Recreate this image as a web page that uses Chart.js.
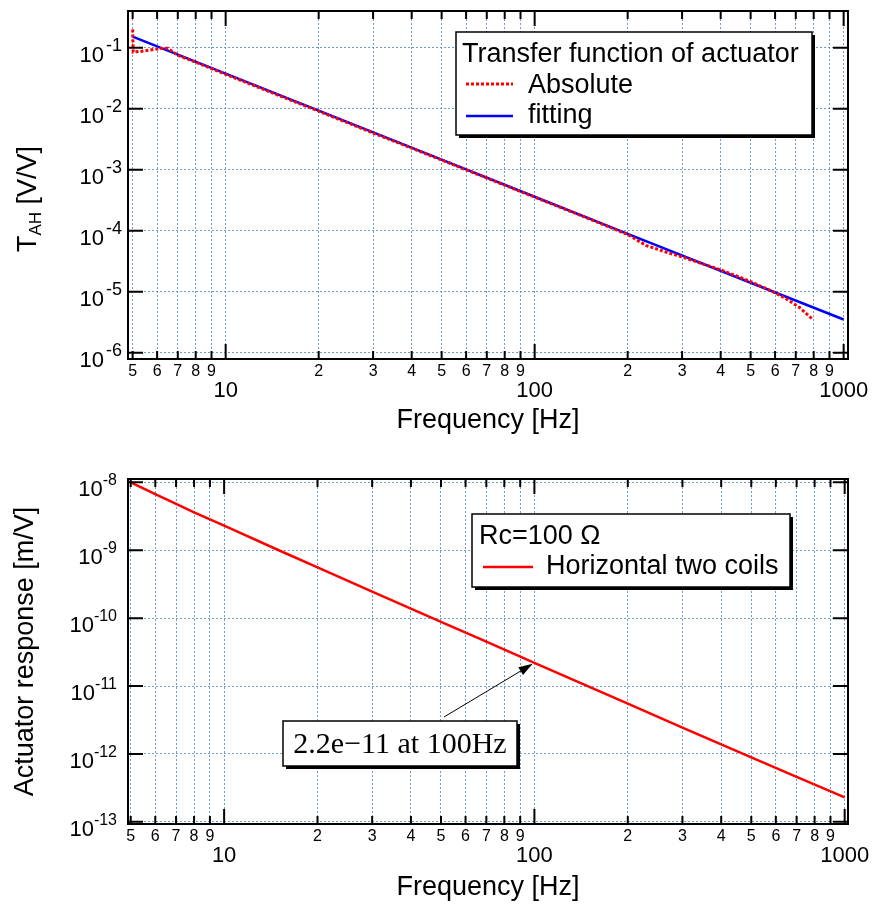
<!DOCTYPE html>
<html><head><meta charset="utf-8">
<script src="https://cdn.jsdelivr.net/npm/chart.js@4/dist/chart.umd.min.js"></script>
<style>html,body{margin:0;padding:0;background:#fff;overflow:hidden}canvas{display:block;position:absolute;left:0}</style>
</head><body>
<canvas id="c1" width="874" height="455" style="top:0"></canvas>
<canvas id="c2" width="874" height="454" style="top:455px"></canvas>
<script>
// ---------- data ----------
const xTickValues = [5,6,7,8,9,10,20,30,40,50,60,70,80,90,100,200,300,400,500,600,700,800,900,1000];
const xMajorValues = [10,100,1000];
const topYTicks = [1e-6,1e-5,1e-4,1e-3,1e-2,1e-1];
const bottomYTicks = [1e-13,1e-12,1e-11,1e-10,1e-9,1e-8];

const absFreq = [5.0,5.02,5.3,5.7,6.1,6.5,7.0,8.0,9.0,10,12,15,20,30,40,50,70,100,150,200,230,270,300,350,400,450,500,560,600,650,720,790];
const absVal  = [0.20,0.085,0.087,0.092,0.097,0.098,0.075,0.058,0.0455,0.0366,0.0254,0.0162,0.0091,0.0040,0.00226,0.00144,0.00073,0.000355,0.000157,0.0000865,0.000057,0.0000435,0.0000372,0.0000285,0.0000228,0.0000181,0.0000146,0.0000113,0.0000096,0.0000077,0.0000055,0.0000036];

const fitFreq = [5,10,20,50,100,200,500,1000];
const fitVal  = [0.152,0.0375,0.0093,0.00146,0.00036,0.0000885,0.0000140,0.0000035];

const respFreq = [5,6,7,8,10,15,20,30,50,70,100,200,300,500,700,1000];
const respVal  = [1.0e-8,6.7e-9,4.8e-9,3.6e-9,2.3e-9,1.0e-9,5.6e-10,2.45e-10,8.8e-11,4.5e-11,2.2e-11,5.5e-12,2.45e-12,8.9e-13,4.6e-13,2.3e-13];

const annotFreq = 100;
const annotVal = 2.2e-11;
const annotText = '2.2e\u221211 at 100Hz';

const topLegendTitle = 'Transfer function of actuator';
const bottomLegendTitle = 'Rc=100 \u03A9';
const xTitle = 'Frequency [Hz]';
const topYTitle = ['T', 'AH', ' [V/V]'];
const bottomYTitle = 'Actuator response [m/V]';

// ---------- style ----------
const FONT = '"Liberation Sans", Arial, Helvetica, sans-serif';
const SERIF = '"Liberation Serif", "Times New Roman", serif';
const GRID = 'rgba(95,145,200,0.9)';
function pts(xs, ys){ return xs.map((x,i)=>({x:x, y:ys[i]})); }

const frame = {
  id:'frame',
  afterDatasetsDraw(chart){
    const {ctx, chartArea:{left,right,top,bottom}, scales:{x,y}} = chart;
    ctx.save();
    ctx.strokeStyle='#000'; ctx.lineWidth=2;
    ctx.beginPath();
    x.ticks.forEach(t=>{ const px = x.getPixelForValue(t.value); const len = t.major?15:8;
      ctx.moveTo(px,bottom); ctx.lineTo(px,bottom-len); ctx.moveTo(px,top); ctx.lineTo(px,top+len); });
    y.ticks.forEach(t=>{ const py = y.getPixelForValue(t.value);
      ctx.moveTo(left,py); ctx.lineTo(left+15,py); ctx.moveTo(right,py); ctx.lineTo(right-15,py); });
    ctx.stroke();
    ctx.strokeRect(left,top,right-left,bottom-top);
    ctx.restore();
  }
};

// decade labels "10" with a real superscript exponent, placed at each y tick of the scale
const yLabels = {
  id:'yLabels',
  afterDraw(chart, args, o){
    if(!o || !o.rightX) return;
    const {ctx, scales:{y}} = chart;
    ctx.save(); ctx.fillStyle='#000'; ctx.textAlign='left'; ctx.textBaseline='alphabetic';
    y.ticks.forEach(t=>{
      const py = y.getPixelForValue(t.value);
      const e = String(Math.round(Math.log10(t.value)));
      ctx.font = '22px ' + FONT; const wm = ctx.measureText('10').width;
      ctx.font = o.supSize + 'px ' + FONT; const ws = ctx.measureText(e).width;
      const x0 = o.rightX - ws - wm - o.gap;
      ctx.font = '22px ' + FONT; ctx.fillText('10', x0, py + 14);
      ctx.font = o.supSize + 'px ' + FONT; ctx.fillText(e, x0 + wm + o.gap, py + 3);
    });
    ctx.restore();
  }
};

const boxLegend = {
  id:'boxLegend',
  afterDraw(chart, args, o){
    if(!o || !o.box) return;
    const {ctx} = chart;
    const [bx,by,bw,bh] = o.box;
    ctx.save();
    ctx.fillStyle='#000'; ctx.fillRect(bx+3,by+3,bw,bh);
    ctx.fillStyle='#fff'; ctx.fillRect(bx,by,bw,bh);
    ctx.strokeStyle='#000'; ctx.lineWidth=1.5; ctx.strokeRect(bx,by,bw,bh);
    ctx.font = '27px ' + FONT; ctx.textBaseline='alphabetic'; ctx.textAlign='left'; ctx.fillStyle='#000';
    ctx.fillText(o.title, o.titleX, o.titleBaseline);
    chart.data.datasets.forEach((ds,i)=>{
      const yb = o.rowBaselines[i], yl = o.sampleY[i];
      ctx.fillStyle='#000';
      ctx.fillText(ds.label, o.textX, yb);
      ctx.strokeStyle = ds.borderColor; ctx.lineWidth = ds.borderWidth;
      ctx.setLineDash(ds.borderDash || []);
      ctx.beginPath(); ctx.moveTo(o.sampleX[0], yl); ctx.lineTo(o.sampleX[1], yl); ctx.stroke();
      ctx.setLineDash([]);
    });
    ctx.restore();
  }
};

const yTitleSub = {
  id:'yTitleSub',
  afterDraw(chart, args, o){
    if(!o || !o.parts) return;
    const {ctx} = chart;
    ctx.save();
    ctx.translate(o.cx, o.cy); ctx.rotate(-Math.PI/2);
    ctx.fillStyle='#000'; ctx.textBaseline='alphabetic'; ctx.textAlign='left';
    const big = '27px ' + FONT, small = '17px ' + FONT;
    ctx.font = big; const w0 = ctx.measureText(o.parts[0]).width, w2 = ctx.measureText(o.parts[2]).width;
    ctx.font = small; const w1 = ctx.measureText(o.parts[1]).width;
    let x0 = -(w0+w1+w2)/2;
    const base = o.baseOffset;
    ctx.font = big; ctx.fillText(o.parts[0], x0, base); x0 += w0;
    ctx.font = small; ctx.fillText(o.parts[1], x0, base + 5); x0 += w1;
    ctx.font = big; ctx.fillText(o.parts[2], x0, base);
    ctx.restore();
  }
};

const annot = {
  id:'annot',
  afterDraw(chart, args, o){
    if(!o || !o.text) return;
    const {ctx, scales:{x,y}} = chart;
    const tx = x.getPixelForValue(o.freq), ty = y.getPixelForValue(o.value);
    const [bx,by,bw,bh] = o.box;
    ctx.save();
    const [sx,sy] = o.tail;
    const ang = Math.atan2(ty-sy, tx-sx);
    const ex = tx - 2*Math.cos(ang), ey = ty - 2*Math.sin(ang);
    ctx.strokeStyle='#000'; ctx.lineWidth=1;
    ctx.beginPath(); ctx.moveTo(sx,sy); ctx.lineTo(ex - 10*Math.cos(ang), ey - 10*Math.sin(ang)); ctx.stroke();
    ctx.fillStyle='#000';
    ctx.beginPath(); ctx.moveTo(ex,ey);
    ctx.lineTo(ex - 14*Math.cos(ang) + 4.5*Math.sin(ang), ey - 14*Math.sin(ang) - 4.5*Math.cos(ang));
    ctx.lineTo(ex - 14*Math.cos(ang) - 4.5*Math.sin(ang), ey - 14*Math.sin(ang) + 4.5*Math.cos(ang));
    ctx.closePath(); ctx.fill();
    ctx.fillStyle='#000'; ctx.fillRect(bx+3,by+3,bw,bh);
    ctx.fillStyle='#fff'; ctx.fillRect(bx,by,bw,bh);
    ctx.strokeStyle='#000'; ctx.lineWidth=1.5; ctx.strokeRect(bx,by,bw,bh);
    ctx.fillStyle='#000'; ctx.font = '30px ' + SERIF; ctx.textBaseline='alphabetic'; ctx.textAlign='center';
    ctx.fillText(o.text, bx + bw/2, o.textBaseline);
    ctx.restore();
  }
};

function xScale(min, max, h, titlePad){
  return {
    type:'logarithmic', min:min, max:max, bounds:'data',
    afterBuildTicks: s => { s.ticks = xTickValues.map(v=>({value:v, major: xMajorValues.includes(v)})); },
    afterFit: s => { s.height = h; s.paddingLeft = 0; s.paddingRight = 0; },
    grid:{color:GRID, lineWidth:1, drawTicks:false},
    border:{display:false, dash:[2,2]},
    title:{display:true, text:xTitle, color:'#000', font:{family:FONT, size:27}, padding:{top:0, bottom:titlePad}},
    ticks:{autoSkip:false, maxRotation:0, minRotation:0, padding:3, color:'#000',
      font: c => (c.tick && c.tick.major) ? {family:FONT, size:22, lineHeight:0.88} : {family:FONT, size:16, lineHeight:1.2},
      callback: v => xMajorValues.includes(v) ? ['', String(v)] : String(Math.round(v / Math.pow(10, Math.floor(Math.log10(v)+1e-9))))
    }
  };
}
function yScale(min, max, ticks, title){
  return {
    type:'logarithmic', min:min, max:max, bounds:'data',
    afterBuildTicks: s => { s.ticks = ticks.map(v=>({value:v, major:true})); },
    afterFit: s => { s.width = 128; s.paddingTop = 0; s.paddingBottom = 0; },
    grid:{color:GRID, lineWidth:1, drawTicks:false},
    border:{display:false, dash:[2,2]},
    title: title ? {display:true, text:title, color:'#000', font:{family:FONT, size:27}, padding:{top:9, bottom:0}} : {display:false},
    ticks:{display:false}
  };
}

new Chart(document.getElementById('c1'), {
  type:'line',
  data:{datasets:[
    {label:'Absolute', data:pts(absFreq, absVal), borderColor:'#ff0000', borderWidth:3, borderDash:[3,2], pointRadius:0, tension:0, fill:false},
    {label:'fitting', data:pts(fitFreq, fitVal), borderColor:'#0000ff', borderWidth:2.5, pointRadius:0, tension:0, fill:false}
  ]},
  options:{
    responsive:false, animation:false, devicePixelRatio:1,
    layout:{padding:{top:11, right:26, left:0, bottom:0}},
    scales:{ x: xScale(4.83, 1033, 96, 18), y: yScale(7.88e-7, 0.4, topYTicks, null) },
    plugins:{
      legend:{display:false}, tooltip:{enabled:false},
      boxLegend:{box:[456,32,356,103], title:topLegendTitle, titleX:462, titleBaseline:62, textX:528, rowBaselines:[93,123], sampleY:[84,116], sampleX:[466,513]},
      yTitleSub:{parts:topYTitle, cx:27, cy:199, baseOffset:9},
      yLabels:{rightX:122, supSize:18, gap:2}
    }
  },
  plugins:[frame, boxLegend, yTitleSub, yLabels]
});

new Chart(document.getElementById('c2'), {
  type:'line',
  data:{datasets:[
    {label:'Horizontal two coils', data:pts(respFreq, respVal), borderColor:'#ff0000', borderWidth:2.5, pointRadius:0, tension:0, fill:false}
  ]},
  options:{
    responsive:false, animation:false, devicePixelRatio:1,
    layout:{padding:{top:24, right:26, left:0, bottom:0}},
    scales:{ x: xScale(4.9, 1025, 85, 5), y: yScale(9.3e-14, 1.12e-8, bottomYTicks, bottomYTitle) },
    plugins:{
      legend:{display:false}, tooltip:{enabled:false},
      boxLegend:{box:[472,59,318,73], title:bottomLegendTitle, titleX:479, titleBaseline:89, textX:546, rowBaselines:[119], sampleY:[112], sampleX:[483,533]},
      annot:{freq:annotFreq, value:annotVal, text:annotText, box:[283,266,234,45], textBaseline:298, tail:[444,262]},
      yLabels:{rightX:117, supSize:16, gap:0}
    }
  },
  plugins:[frame, boxLegend, annot, yLabels]
});
</script>
</body></html>
